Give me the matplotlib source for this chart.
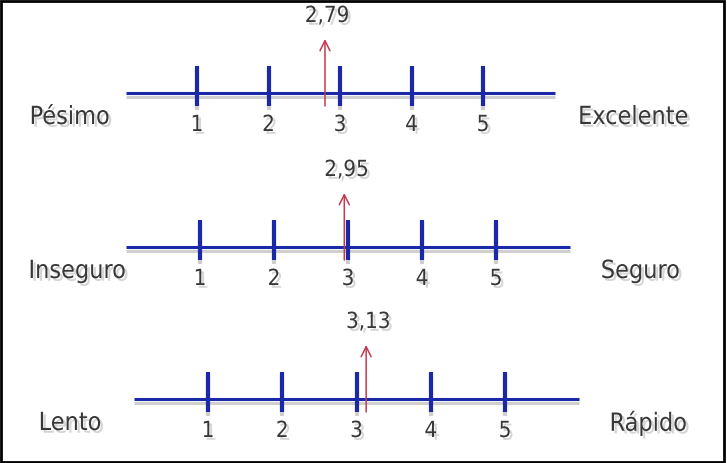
import matplotlib
matplotlib.use("Agg")
import matplotlib.pyplot as plt
import matplotlib.patheffects as pe
from matplotlib.patches import Rectangle

# ---------- data ----------
scale_ticks = [1, 2, 3, 4, 5]
tick_labels = ["1", "2", "3", "4", "5"]
means = [2.79, 2.95, 3.13]
mean_labels = ["2,79", "2,95", "3,13"]
left_labels = ["Pésimo", "Inseguro", "Lento"]
right_labels = ["Excelente", "Seguro", "Rápido"]

# ---------- layout (pixels of a 727x463 image) ----------
W, H = 727, 463
# x pixel of scale value 0, pixels per unit, y pixel of the line
panels = [(125.5, 71.5, 93), (126, 74, 247), (133.75, 74.25, 399)]
left_x = [-0.78, -0.66, -0.86]
right_x = [7.1, 6.95, 6.93]

plt.rcParams['font.family'] = ['DejaVu Sans']
plt.rcParams['font.stretch'] = 'condensed'

blue = "#1b28a8"
red = "#c23a4e"
txt = "#383838"

line_fx = [pe.SimpleLineShadow(offset=(0, -3), shadow_color="#777777", alpha=0.35),
           pe.Normal()]
text_fx = [pe.withSimplePatchShadow(offset=(2, -2), shadow_rgbFace="#888888", alpha=0.35)]

fig = plt.figure(figsize=(W / 100, H / 100), dpi=100)
fig.patch.set_facecolor("white")

for i, (x0, unit, ly) in enumerate(panels):
    # axes spans scale 0..6 horizontally, y in pixels relative to the line
    ax = fig.add_axes([x0 / W, (H - ly - 40) / H, 6 * unit / W, 120 / H])
    ax.set_xlim(0, 6)
    ax.set_ylim(-40, 80)
    ax.axis("off")

    ax.plot([0, 6], [0, 0], color=blue, lw=2.2, solid_capstyle="butt",
            path_effects=line_fx, clip_on=False)
    for t, lab in zip(scale_ticks, tick_labels):
        ax.plot([t, t], [-13, 27], color=blue, lw=3, solid_capstyle="butt",
                path_effects=line_fx, clip_on=False)
        ax.text(t, -32, lab, ha="center", va="center", fontsize=16,
                color=txt, path_effects=text_fx)

    ax.annotate("", xy=(means[i], 54), xytext=(means[i], -13),
                arrowprops=dict(arrowstyle="->", color=red, lw=1.1,
                                mutation_scale=18, shrinkA=0, shrinkB=0))
    ax.text(means[i] + 0.03, 77, mean_labels[i], ha="center", va="center",
            fontsize=16, color=txt, path_effects=text_fx)

    ax.text(left_x[i], -24, left_labels[i], ha="center", va="center",
            fontsize=18, color=txt, path_effects=text_fx, clip_on=False)
    ax.text(right_x[i], -24, right_labels[i], ha="center", va="center",
            fontsize=18, color=txt, path_effects=text_fx, clip_on=False)

fig.patches.append(Rectangle((0.002, 0.003), 0.994, 0.994, transform=fig.transFigure,
                             fill=False, edgecolor="black", lw=2))

fig.savefig("out.png", dpi=100)
